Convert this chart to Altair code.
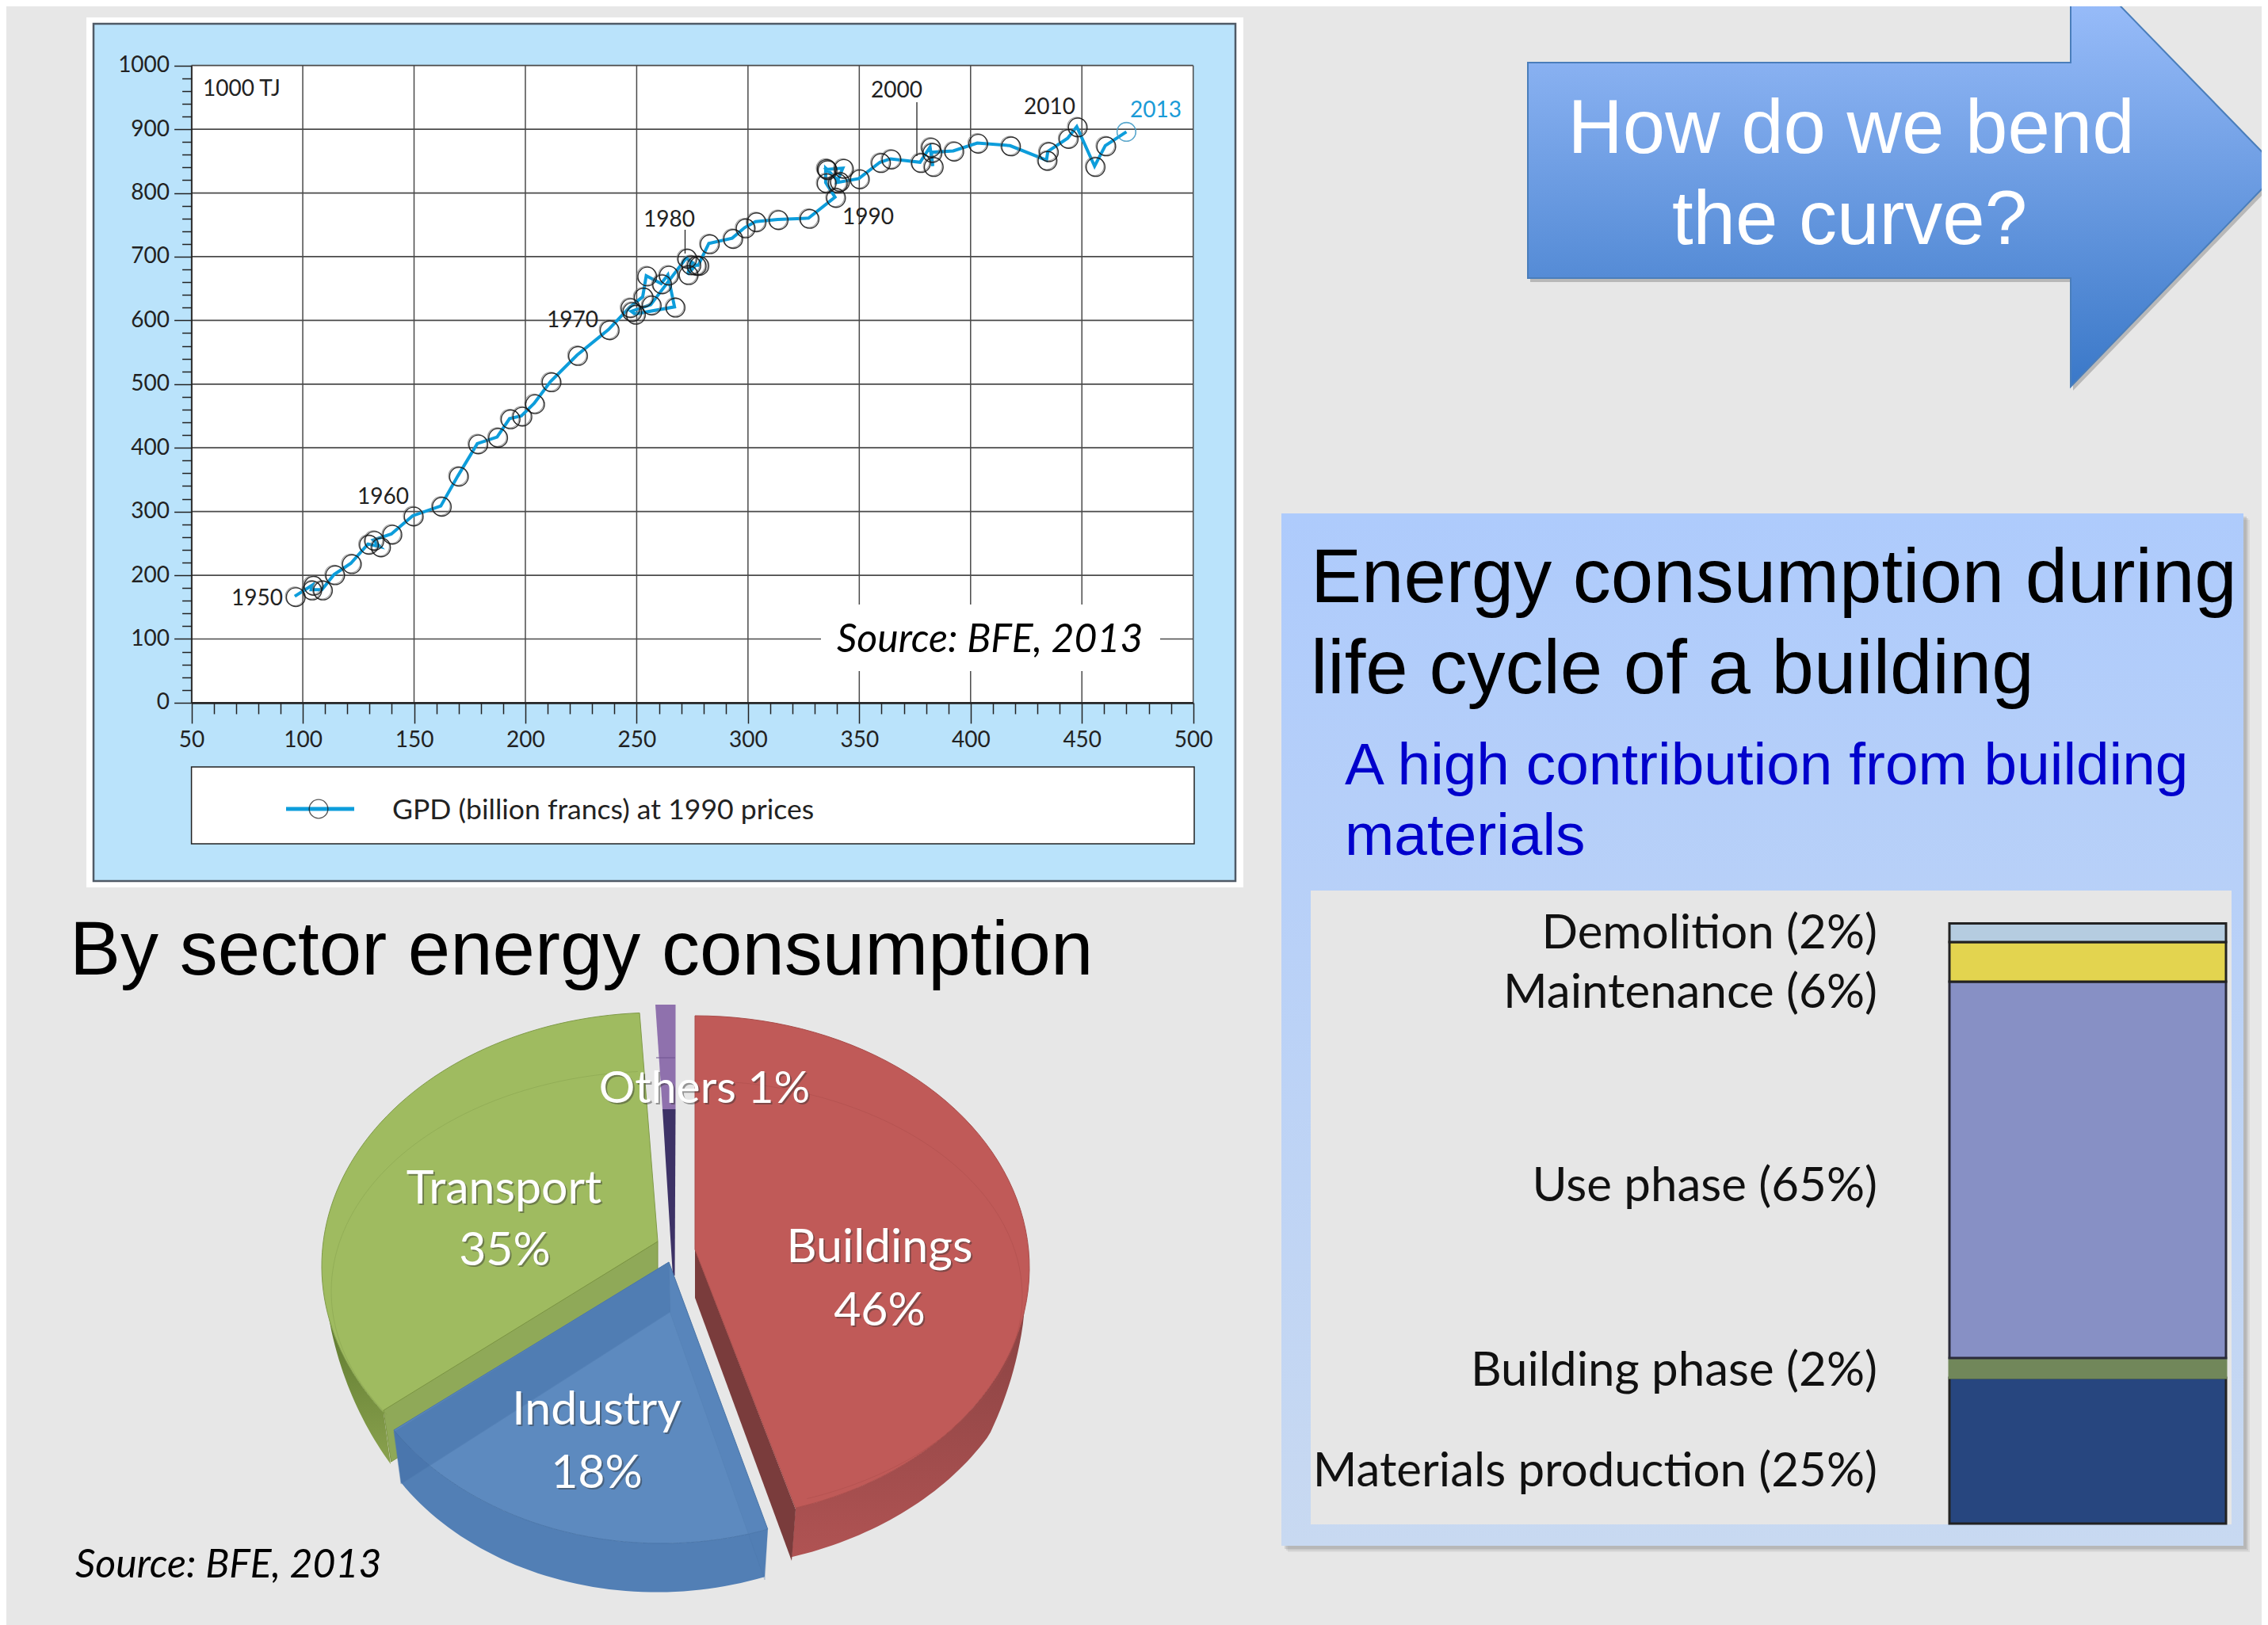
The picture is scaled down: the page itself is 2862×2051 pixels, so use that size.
import math
import altair as alt
import pandas as pd

# ---------- data ----------
gdp = [96.4,104.4,103.8,108.6,114.1,121.6,129.3,134.7,131.7,139.8,149.4,
       162.0,169.7,178.4,187.3,192.9,198.2,203.9,211.3,223.2,237.4,
       246.8,252.7,254.3,261.0,264.0,267.0,249.2,247.6,256.3,272.3,
       276.5,272.9,274.1,277.7,282.4,292.9,298.5,303.4,313.3,327.2,
       339.1,334.9,334.9,340.9,335.3,342.6,339.9,349.8,359.3,364.0,
       377.3,381.8,383.0,382.4,392.2,403.0,417.7,434.1,434.7,443.6,
       447.7,455.7,460.5,470.0]
energy = [166.9,184.7,177.3,177.3,201.3,218.7,249.0,244.9,255.2,264.8,293.4,
          308.7,356.0,406.6,416.9,445.9,450.1,469.6,504.0,545.4,585.7,
          620.4,637.0,670.1,657.7,671.4,621.2,610.0,614.2,624.5,697.9,
          686.7,672.2,687.6,686.7,720.7,729.0,745.6,755.1,758.5,760.5,
          793.4,816.3,839.0,818.3,837.0,839.0,816.3,822.5,848.2,853.6,
          848.2,872.2,842.0,863.9,866.0,878.4,874.3,851.5,865.2,885.9,
          904.1,842.0,874.3,895.9]
x_major = list(range(50, 501, 50))
y_major = list(range(0, 1001, 100))
x_minor = [v for v in range(50, 501, 10) if v % 50]
y_minor = [v for v in range(0, 1001, 20) if v % 100]

bar_labels = ["Materials production (25%)", "Building phase (2%)", "Use phase (65%)",
              "Maintenance (6%)", "Demolition (2%)"]
bar_heights = [24.3, 3.3, 62.7, 6.6, 3.1]
bar_colors = ["#27467f", "#71875a", "#8790c5", "#e3d44f", "#b5cce0"]
bar_strokes = ["#222222", "#71875a", "#2a2a3a", "#222222", "#222222"]

pie_names = ["Buildings", "Industry", "Transport", "Others"]
pie_shares = [46, 18, 35, 1]

OX, OY = 8, 8
W, H = 2846, 2043
PX = alt.Scale(domain=[0, 2862], range=[-OX, 2862 - OX])
PY = alt.Scale(domain=[0, 2051], range=[-OY, 2051 - OY])
SX = alt.Scale(domain=[50, 500], range=[241.6 - OX, 1505.7 - OX], nice=False, zero=False)
SY = alt.Scale(domain=[0, 1000], range=[886.9 - OY, 82.7 - OY], nice=False, zero=False)
CHART_FONT = "Lato"
SANS = "Liberation Sans"
LATO = "Lato"
layers = []


def box(x0, y0, x1, y1, fill, stroke=None, sw=0, opacity=1.0):
    kw = dict(fill=fill, opacity=opacity)
    if stroke:
        kw.update(stroke=stroke, strokeWidth=sw)
    layers.append(alt.Chart().mark_rect(**kw).encode(
        x=alt.value(x0 - OX), x2=alt.value(x1 - OX),
        y=alt.value(y0 - OY), y2=alt.value(y1 - OY)))


def seg(x0, y0, x1, y1, color, sw, opacity=1.0):
    layers.append(alt.Chart().mark_rule(color=color, strokeWidth=sw, opacity=opacity).encode(
        x=alt.value(x0 - OX), x2=alt.value(x1 - OX),
        y=alt.value(y0 - OY), y2=alt.value(y1 - OY)))


def txt(s, x, y, size, font, color="#000000", align="left", style="normal", opacity=1.0):
    layers.append(alt.Chart().mark_text(
        font=font, fontSize=size, color=color, align=align, baseline="alphabetic",
        fontStyle=style, opacity=opacity).encode(
        x=alt.value(x - OX), y=alt.value(y - OY), text=alt.value(s)))


def poly(pts, fill, stroke="transparent", sw=1, opacity=1.0):
    pts = list(pts) + [pts[0]]
    df = pd.DataFrame({"x": [p[0] for p in pts], "y": [p[1] for p in pts], "i": range(len(pts))})
    layers.append(alt.Chart(df).mark_line(fill=fill, stroke=stroke, strokeWidth=sw,
                                          opacity=opacity, interpolate="linear").encode(
        x=alt.X("x:Q", scale=PX, axis=None), y=alt.Y("y:Q", scale=PY, axis=None),
        order=alt.Order("i:Q")))


def curve(pts, color, sw, opacity=1.0):
    df = pd.DataFrame({"x": [p[0] for p in pts], "y": [p[1] for p in pts], "i": range(len(pts))})
    layers.append(alt.Chart(df).mark_line(color=color, strokeWidth=sw, opacity=opacity).encode(
        x=alt.X("x:Q", scale=PX, axis=None), y=alt.Y("y:Q", scale=PY, axis=None),
        order=alt.Order("i:Q")))


def grad(stops, horizontal=False):
    return alt.LinearGradient(
        gradient="linear",
        stops=[alt.GradientStop(color=c, offset=o) for o, c in stops],
        x1=0, x2=1 if horizontal else 0, y1=0, y2=0 if horizontal else 1)


def rim(c, a0, a1, n=70):
    cx, cy, rx, ry = c
    out = []
    for k in range(n + 1):
        t = math.radians(a0 + (a1 - a0) * k / n)
        out.append((cx + rx * math.sin(t), cy - ry * math.cos(t)))
    return out


# ---------- panel backgrounds ----------
box(109, 22, 1569, 1120, "#ffffff")
box(118, 30, 1559, 1112, "#bae3fb", "#4f5a66", 2.5)
box(242, 83, 1506, 887, "#ffffff")

# ---------- line chart grid (through the chart's scales) ----------
GRID = "#4a4a4a"
layers.append(alt.Chart(pd.DataFrame({"v": x_major})).mark_rule(color=GRID, strokeWidth=1.5).encode(
    x=alt.X("v:Q", scale=SX, axis=None), y=alt.value(82.7 - OY), y2=alt.value(886.9 - OY)))
layers.append(alt.Chart(pd.DataFrame({"v": y_major})).mark_rule(color=GRID, strokeWidth=1.7).encode(
    y=alt.Y("v:Q", scale=SY, axis=None), x=alt.value(241.6 - OX), x2=alt.value(1505.7 - OX)))

box(1036, 763, 1464, 847, "#ffffff")
txt("Source: BFE, 2013", 1056, 823, 50, LATO, style="italic")

# leader lines
seg(864.5, 290, 864.5, 320, "#222222", 1.3)
seg(1157, 129, 1157, 197, "#222222", 1.3)

# ---------- series ----------
series = pd.DataFrame({"gdp": gdp, "energy": energy, "i": range(len(gdp))})
LINE = "#0d9ddb"
layers.append(alt.Chart(series).mark_line(color=LINE, strokeWidth=4).encode(
    x=alt.X("gdp:Q", scale=SX, axis=alt.Axis(
        values=x_major, orient="bottom", offset=886.9 - OY - H, zindex=1, title=None, grid=False,
        tickSize=26, tickColor="#222222", tickWidth=1.5, domainColor="#222222", domainWidth=2.5,
        labelFont=CHART_FONT, labelFontSize=28, labelColor="#222222", labelPadding=8, labelFlush=False,
        labelOverlap=False, format="d")),
    y=alt.Y("energy:Q", scale=SY, axis=alt.Axis(
        values=y_major, orient="left", offset=-(241.6 - OX), zindex=1, title=None, grid=False,
        tickSize=22, tickColor="#222222", tickWidth=1.5, domainColor="#222222", domainWidth=1.5,
        labelFont=CHART_FONT, labelFontSize=28, labelColor="#222222", labelPadding=6,
        labelOverlap=False, format="d")),
    order=alt.Order("i:Q")))
layers.append(alt.Chart(series).mark_point(
    filled=False, size=560, color="#777777", strokeWidth=1.1).encode(
    x=alt.X("gdp:Q", scale=SX, axis=alt.Axis(
        values=x_minor, orient="bottom", offset=886.9 - OY - H, zindex=1, title=None, grid=False,
        labels=False, domain=False, tickSize=14, tickColor="#222222", tickWidth=1.5)),
    y=alt.Y("energy:Q", scale=SY, axis=alt.Axis(
        values=y_minor, orient="left", offset=-(241.6 - OX), zindex=1, title=None, grid=False,
        labels=False, domain=False, tickSize=12, tickColor="#222222", tickWidth=1.5))))
layers.append(alt.Chart(series.iloc[:-1]).mark_point(
    filled=False, size=560, color="#111111", strokeWidth=1.4, xOffset=1.3, yOffset=1.0, opacity=0.85).encode(
    x=alt.X("gdp:Q", scale=SX, axis=None), y=alt.Y("energy:Q", scale=SY, axis=None)))
layers.append(alt.Chart(series.iloc[-1:]).mark_point(
    filled=False, size=560, color="#35a7de", strokeWidth=1.6).encode(
    x=alt.X("gdp:Q", scale=SX, axis=None), y=alt.Y("energy:Q", scale=SY, axis=None)))

for s, x, y, col in [("1950", 292, 764, "#222222"), ("1960", 451, 636, "#222222"),
                     ("1970", 690, 413, "#222222"), ("1980", 812, 286, "#222222"),
                     ("1990", 1063, 283, "#222222"), ("2000", 1099, 123, "#222222"),
                     ("2010", 1292, 144, "#222222"), ("2013", 1426, 148, "#1a9bd7"),
                     ("1000 TJ", 256, 121, "#222222")]:
    txt(s, x, y, 28, CHART_FONT, col)

# legend
box(241.6, 968, 1507, 1065, "#ffffff", "#222222", 1.5)
seg(361, 1021, 447, 1021, LINE, 5)
layers.append(alt.Chart().mark_point(filled=False, size=560, color="#111111", strokeWidth=1.4).encode(
    x=alt.value(402 - OX), y=alt.value(1021 - OY)))
txt("GPD (billion francs) at 1990 prices", 495, 1034, 35.6, CHART_FONT, "#222222")

# ---------- headings ----------
txt("By sector energy consumption", 88, 1230, 96, SANS)

# ---------- 3-D pie: slices rebuilt from rim angles ----------
# Others
poly([(827, 1268), (852.5, 1268), (852.5, 1400), (836, 1400)], "#8f71ad")
poly([(836, 1400), (852.5, 1400), (851.5, 1610), (849, 1610)], "#3d3266")
seg(828, 1335, 852, 1335, "#6f5590", 1)

# Transport
GC = (830, 1598, 424, 320)
A0, A1 = 234.7, 356.9
top = rim(GC, A0, 258, 24)
bot = []
for k, p in enumerate(top):
    t = ((24 - k) / 24) ** 0.6
    bot.append((p[0] + 9 * t, p[1] + 65 * t))
poly(top + bot[::-1], grad([(0, "#5f7a30"), (1, "#8aa24e")]))
poly([(830, 1567)] + rim(GC, A0, A1), "#9fbb60", "#7f9a48", 1)
poly([(830, 1567), (484, 1780), (493.5, 1845), (830, 1633)], "#8fa958", "#7b9443", 1)
curve(rim((830, 1630, 412, 278), 236, 356.5), "#7f9a48", 1, 0.4)

# Buildings
RC = (877, 1600, 422, 318)
A0, A1 = 0, 162.5
top = rim(RC, 100, A1, 50)
bot = []
for k, p in enumerate(top):
    ang = 100 + (A1 - 100) * k / 50
    t = min(1.0, (ang - 100) / 18) ** 0.7
    dx = -5 * (ang - 100) / (A1 - 100)
    bot.append((p[0] + dx, p[1] + 62 * t))
poly(top + bot[::-1], grad([(0, "#8a4343"), (1, "#b05353")], horizontal=False))
poly([(877, 1577), (1004, 1905), (999, 1970), (877, 1638)], "#7a3c3c")
poly([(877, 1577)] + rim(RC, A0, A1), "#c05a58", "#a94c4a", 1)
curve(rim((877, 1636, 413, 272), 0, 160), "#a94c4a", 1, 0.45)

# Industry
BC = (835, 1630, 405, 318)
A0, A1 = 160.7, 236.6
top = rim(BC, A0, A1, 50)
bot = []
for k, p in enumerate(top):
    f = k / 50
    bot.append((p[0] - 4 + 13 * f, p[1] + 60 + 6 * f))
poly(top + bot[::-1], "#527fb5")
poly([(844, 1593)] + rim(BC, A0, A1), "#5d8abf", "#4a76aa", 1)
poly([(844, 1593), (497, 1807), (506, 1873), (845.5, 1656)], "#3f6aa3", "#4a76aa", 1, 0.4)
poly([(844, 1593), (968.6, 1931), (965, 1994), (845.5, 1656)], "#4f7cb2", "#4a76aa", 1, 0.3)

for s, x, y, sz in [("Others 1%", 889, 1392, 57), ("Transport", 636, 1519, 59), ("35%", 637, 1597, 59),
                    ("Buildings", 1110, 1593, 59), ("46%", 1110, 1673, 59),
                    ("Industry", 753, 1798, 59), ("18%", 753, 1878, 59)]:
    txt(s, x + 2, y + 2, sz, LATO, "#333333", "center", opacity=0.45)
    txt(s, x, y, sz, LATO, "#ffffff", "center")

txt("Source: BFE, 2013", 95, 1991, 50, LATO, style="italic")

# ---------- arrow ----------
ARROW = "M1928 79 L2613 79 L2613 -57 L2877 215 L2613 488 L2613 351 L1928 351 Z"
layers.append(alt.Chart().mark_point(shape=ARROW, size=4, filled=True, fill="#8a8a8a",
                                     opacity=0.5, xOffset=3, yOffset=5).encode(
    x=alt.value(-OX), y=alt.value(-OY)))
layers.append(alt.Chart().mark_point(
    shape=ARROW, size=4, filled=True, opacity=1, stroke="#4a7ebb", strokeWidth=2,
    fill=grad([(0, "#a3c4ff"), (1, "#3a78c8")])).encode(
    x=alt.value(-OX), y=alt.value(-OY)))
txt("How do we bend", 2336, 193, 96, SANS, "#ffffff", "center")
txt("the curve?", 2334, 308, 96, SANS, "#ffffff", "center")

# ---------- right panel ----------
for d, op in [(8, 0.10), (6, 0.15), (4, 0.2)]:
    box(1617 + d, 648 + d, 2831 + d, 1951 + d, "#707070", opacity=op)
box(1617, 648, 2831, 1951, grad([(0, "#aecbfc"), (1, "#c8d9f1")]))
box(1654, 1124, 2816, 1924, "#e6e6e6")

txt("Energy consumption during", 1654, 760, 96, SANS)
txt("life cycle of a building", 1654, 875, 96, SANS)
txt("A high contribution from building", 1697, 990, 74.8, SANS, "#0000cc")
txt("materials", 1697, 1079, 74.8, SANS, "#0000cc")

ends, acc = [], 0
for h in bar_heights:
    acc += h
    ends.append(acc)
bar = pd.DataFrame({"label": bar_labels, "lo": [e - h for e, h in zip(ends, bar_heights)],
                    "hi": ends, "c": bar_colors, "s": bar_strokes})
SB = alt.Scale(domain=[0, sum(bar_heights)], range=[1923 - OY, 1165.5 - OY], nice=False, zero=False)
layers.append(alt.Chart(bar).mark_rect(strokeWidth=3).encode(
    x=alt.value(2460 - OX), x2=alt.value(2809 - OX),
    y=alt.Y("lo:Q", scale=SB, axis=None), y2="hi:Q",
    fill=alt.Fill("c:N", scale=None), stroke=alt.Stroke("s:N", scale=None)))

for s, y in zip(bar_labels, [1876, 1749, 1516, 1272, 1197]):
    txt(s, 2369, y, 60, LATO, "#111111", "right")

chart = alt.layer(*layers).resolve_scale(x="independent", y="independent").properties(
    width=W, height=H, background="#e7e7e7", padding=0,
    autosize=alt.AutoSizeParams(type="none")).configure_view(stroke=None)
chart.save("out.html", embed_options={"renderer": "svg", "actions": False})
